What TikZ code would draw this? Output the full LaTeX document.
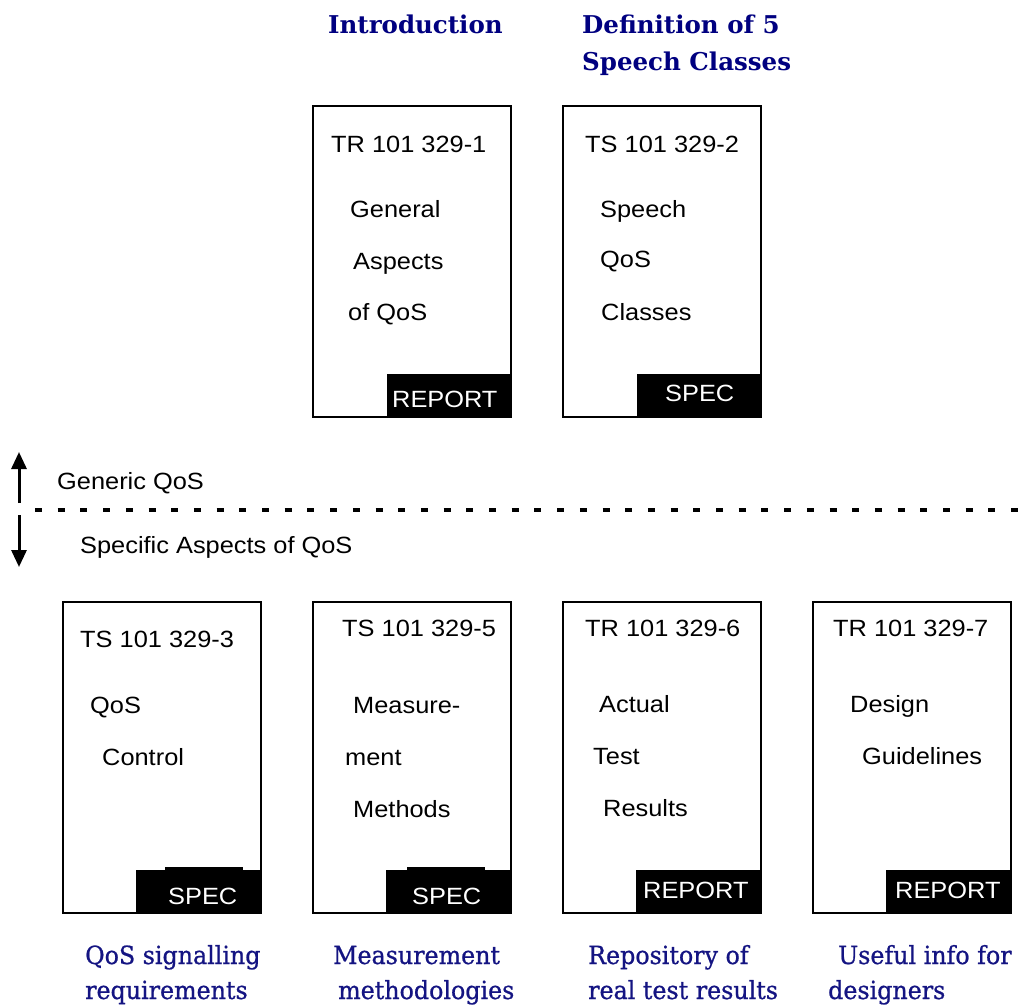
\documentclass[tikz,border=0pt]{standalone}
\usepackage{fontspec}
\usetikzlibrary{arrows.meta}
\newfontfamily\labelfont[FakeStretch=1.08]{Liberation Sans}
\newfontfamily\titlefont{DejaVu Serif}
\newfontfamily\notefont[FakeStretch=0.95,FakeBold=0.8]{DejaVu Serif}
\definecolor{titleblue}{RGB}{0,0,128}
\definecolor{noteblue}{RGB}{20,20,130}
\begin{document}
\begin{tikzpicture}[x=1pt,y=-1pt,
  txt/.style={anchor=base west,inner sep=0pt,font=\labelfont\fontsize{23.5}{28}\selectfont},
  tabtxt/.style={txt,text=white},
  heading/.style={anchor=base west,inner sep=0pt,text=titleblue,font=\titlefont\bfseries\fontsize{24.5}{29}\selectfont},
  note/.style={anchor=base west,inner sep=0pt,text=noteblue,font=\notefont\fontsize{25}{30}\selectfont},
  docbox/.style={draw,line width=2.6pt,anchor=north west,inner sep=0pt,outer sep=0pt,minimum width=198pt,minimum height=311pt},
  flow/.style={line width=3pt,-{Triangle[width=15pt,length=17pt]}}]
\useasboundingbox (0,0) rectangle (1026,1006);

% ---- headings over the generic documents
\node[heading] (h1) at (328,34) {Introduction};
\node[heading] (h2a) at (582,34) {Definition of 5};
\node[heading] (h2b) at (582,71) {Speech Classes};

% ---- generic documents
\node[docbox] (box1) at (313,106) {};
\fill (box1.south east) rectangle ++(-124,-43);
\node[txt] (id1) at (331,153) {TR 101 329-1};
\node[txt] (t1a) at (350,217) {General};
\node[txt] (t1b) at (353,269) {Aspects};
\node[txt] (t1c) at (348,320) {of QoS};
\node[tabtxt] (k1) at (392,407) {REPORT};

\node[docbox] (box2) at (563,106) {};
\fill (box2.south east) rectangle ++(-124,-43);
\node[txt] (id2) at (585,153) {TS 101 329-2};
\node[txt] (t2a) at (600,217) {Speech};
\node[txt] (t2b) at (600,267) {QoS};
\node[txt] (t2c) at (601,320) {Classes};
\node[tabtxt] (k2) at (665,401) {SPEC};

% ---- divider between generic and specific parts
\coordinate (up0) at (19,503);
\coordinate (up1) at (19,452);
\coordinate (dn0) at (19,515);
\coordinate (dn1) at (19,567);
\draw[flow] (up0) -- (up1);
\draw[flow] (dn0) -- (dn1);
\coordinate (div0) at (35,510);
\coordinate (div1) at (1026,510);
\draw[line width=4.5pt,dash pattern=on 7pt off 15.7pt] (div0) -- (div1);
\node[txt] (gen) at (57,489) {Generic QoS};
\node[txt] (spec) at (80,553) {Specific Aspects of QoS};

% ---- specific documents
\node[docbox] (box3) at (63,602) {};
\fill (box3.south east) rectangle ++(-125,-43);
\fill (165,867) rectangle (243,871);
\node[txt] (id3) at (80,647) {TS 101 329-3};
\node[txt] (t3a) at (90,713) {QoS};
\node[txt] (t3b) at (102,765) {Control};
\node[tabtxt] (k3) at (168,904) {SPEC};

\node[docbox] (box4) at (313,602) {};
\fill (box4.south east) rectangle ++(-125,-43);
\fill (407,867) rectangle (485,871);
\node[txt] (id4) at (342,636) {TS 101 329-5};
\node[txt] (t4a) at (353,713) {Measure-};
\node[txt] (t4b) at (345,765) {ment};
\node[txt] (t4c) at (353,817) {Methods};
\node[tabtxt] (k4) at (412,904) {SPEC};

\node[docbox] (box5) at (563,602) {};
\fill (box5.south east) rectangle ++(-125,-43);
\node[txt] (id5) at (585,636) {TR 101 329-6};
\node[txt] (t5a) at (599,712) {Actual};
\node[txt] (t5b) at (593,764) {Test};
\node[txt] (t5c) at (603,816) {Results};
\node[tabtxt] (k5) at (643,898) {REPORT};

\node[docbox] (box6) at (813,602) {};
\fill (box6.south east) rectangle ++(-125,-43);
\node[txt] (id6) at (833,636) {TR 101 329-7};
\node[txt] (t6a) at (850,712) {Design};
\node[txt] (t6b) at (862,764) {Guidelines};
\node[tabtxt] (k6) at (895,898) {REPORT};

% ---- notes under the specific documents
\node[note] (n3a) at (85,964) {QoS signalling};
\node[note] (n3b) at (85,999) {requirements};
\node[note] (n4a) at (333,964) {Measurement};
\node[note] (n4b) at (338,999) {methodologies};
\node[note] (n5a) at (588,964) {Repository of};
\node[note] (n5b) at (588,999) {real test results};
\node[note] (n6a) at (838,964) {Useful info for};
\node[note] (n6b) at (828,999) {designers};
\end{tikzpicture}
\end{document}
